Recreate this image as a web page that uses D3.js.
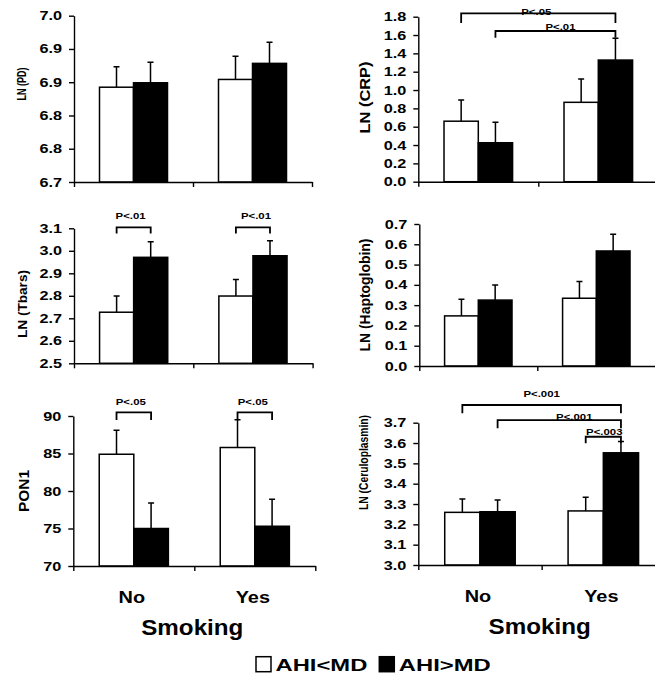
<!DOCTYPE html>
<html>
<head>
<meta charset="utf-8">
<script src="https://cdn.jsdelivr.net/npm/d3@7"></script>
<style>
  body { margin: 0; background: #fff; }
  svg text { font-family: "Liberation Sans", Arial, sans-serif; font-weight: bold; fill: #000; }
</style>
</head>
<body>
<div id="chart"></div>
<script>
// categories and groups
var categories = ["No", "Yes"];
var groups = ["AHI<MD", "AHI>MD"];

// means [No, Yes] x [AHI<MD, AHI>MD], upper error bars (SE)
var pdMean = [[6.871, 6.879], [6.885, 6.914]];
var pdErr = [[0.037, 0.037], [0.042, 0.038]];
var crpMean = [[0.66, 0.425], [0.866, 1.327]];
var crpErr = [[0.231, 0.223], [0.254, 0.237]];
var tbarsMean = [[2.727, 2.971], [2.799, 2.978]];
var tbarsErr = [[0.072, 0.069], [0.074, 0.067]];
var haptoMean = [[0.247, 0.325], [0.334, 0.567]];
var haptoErr = [[0.082, 0.074], [0.082, 0.082]];
var ponMean = [[84.9, 75.0], [85.8, 75.3]];
var ponErr = [[3.2, 3.4], [3.7, 3.6]];
var ceruloMean = [[3.259, 3.262], [3.266, 3.552]];
var ceruloErr = [[0.066, 0.058], [0.067, 0.055]];

// tick values
var pdTicks = [6.70, 6.76, 6.82, 6.88, 6.94, 7.00];
var crpTicks = [0, 0.2, 0.4, 0.6, 0.8, 1.0, 1.2, 1.4, 1.6, 1.8];
var tbarsTicks = [2.5, 2.6, 2.7, 2.8, 2.9, 3.0, 3.1];
var haptoTicks = [0, 0.1, 0.2, 0.3, 0.4, 0.5, 0.6, 0.7];
var ponTicks = [70, 75, 80, 85, 90];
var ceruloTicks = [3.0, 3.1, 3.2, 3.3, 3.4, 3.5, 3.6, 3.7];

var xTitle = "Smoking";

// panel layout
var panels = [
  {mean: pdMean, err: pdErr, ticks: pdTicks, fmt: ".1f", title: "LN (PD)",
   left: 74, top: 15.7, right: 312, bottom: 182,
   t: {x: 22, y: 84, len: 33, size: 13}, brackets: []},
  {mean: crpMean, err: crpErr, ticks: crpTicks, fmt: ".1f", title: "LN (CRP)",
   left: 418.3, top: 16.7, right: 658.3, bottom: 181.7,
   t: {x: 365, y: 97.5, len: 72, size: 14},
   brackets: [
     {a: [0, 0], b: [1, 1], level: 1.837, leg: 9.7, label: "P<.05", dx: -2, gap: -1.7},
     {a: [0, 1], b: [1, 1], level: 1.644, leg: 6.7, label: "P<.01", dx: 5, gap: 1}
   ]},
  {mean: tbarsMean, err: tbarsErr, ticks: tbarsTicks, fmt: ".1f", title: "LN (Tbars)",
   left: 74, top: 228.3, right: 312.6, bottom: 363.3,
   t: {x: 22.5, y: 304, len: 68, size: 13},
   brackets: [
     {a: [0, 0], b: [0, 1], level: 3.104, leg: 6, label: "P<.01", dx: -3, gap: 8},
     {a: [1, 0], b: [1, 1], level: 3.104, leg: 6, label: "P<.01", dx: 3, gap: 8}
   ]},
  {mean: haptoMean, err: haptoErr, ticks: haptoTicks, fmt: ".1f", title: "LN (Haptoglobin)",
   left: 419.3, top: 224, right: 655.3, bottom: 366,
   t: {x: 365, y: 295, len: 113, size: 14}, brackets: []},
  {mean: ponMean, err: ponErr, ticks: ponTicks, fmt: "d", title: "PON1",
   left: 73.3, top: 416, right: 315.3, bottom: 566,
   t: {x: 24, y: 491, len: 42, size: 15}, xlab: true,
   brackets: [
     {a: [0, 0], b: [0, 1], level: 90.49, leg: 7.7, label: "P<.05", dx: -3, gap: 7.3},
     {a: [1, 0], b: [1, 1], level: 90.49, leg: 7.7, label: "P<.05", dx: -2, gap: 7.3}
   ]},
  {mean: ceruloMean, err: ceruloErr, ticks: ceruloTicks, fmt: ".1f", title: "LN (Ceruloplasmin)",
   left: 418.3, top: 422.7, right: 665, bottom: 565,
   t: {x: 364, y: 462.5, len: 95, size: 13.5}, xlab: true,
   brackets: [
     {a: [0, 0], b: [1, 1], level: 3.787, leg: 8.3, label: "P<.001", dx: 0, gap: 8},
     {a: [0, 1], b: [1, 1], level: 3.713, leg: 8.3, label: "P<.001", dx: 15, gap: 0},
     {a: [1, 0], b: [1, 1], level: 3.631, leg: 6.6, label: "P<.003", dx: 1, gap: 1.7}
   ]}
];

var W = 655, H = 682;
var svg = d3.select("#chart").append("svg")
  .attr("width", W)
  .attr("height", H);

function stretchText(sel, x, y, str, size, sx, anchor) {
  return sel.append("text")
    .attr("transform", "translate(" + x + "," + y + ") scale(" + sx + ",1)")
    .attr("text-anchor", anchor)
    .style("font-size", size + "px")
    .text(str);
}

panels.forEach(function(p) {
  var y = d3.scaleLinear()
    .domain([p.ticks[0], p.ticks[p.ticks.length - 1]])
    .range([p.bottom, p.top]);
  var x0 = d3.scaleBand().domain(categories).range([p.left, p.right]).padding(0);
  var x1 = d3.scaleBand().domain(groups).range([0, x0.bandwidth()])
    .paddingInner(0).paddingOuter(0.75);

  var barX = function(ci, gi) {
    return x0(categories[ci]) + x1(groups[gi]);
  };
  var barC = function(ci, gi) {
    return barX(ci, gi) + x1.bandwidth() / 2;
  };

  var rows = [];
  categories.forEach(function(c, ci) {
    groups.forEach(function(g, gi) {
      rows.push({ci: ci, gi: gi, v: p.mean[ci][gi], e: p.err[ci][gi]});
    });
  });

  // error bars (upper only)
  var eb = svg.append("g")
    .attr("stroke", "#000")
    .attr("stroke-width", 1.5)
    .attr("fill", "none");
  eb.selectAll("path")
    .data(rows)
    .enter()
    .append("path")
    .attr("d", function(d) {
      var cx = barC(d.ci, d.gi);
      var yt = y(d.v + d.e);
      return "M" + cx + "," + y(d.v) + "V" + yt + "M" + (cx - 3) + "," + yt + "H" + (cx + 3);
    });

  // bars
  svg.append("g")
    .selectAll("rect")
    .data(rows)
    .enter()
    .append("rect")
    .attr("x", function(d) { return barX(d.ci, d.gi); })
    .attr("y", function(d) { return y(d.v); })
    .attr("width", x1.bandwidth())
    .attr("height", function(d) { return p.bottom - y(d.v); })
    .attr("fill", function(d) { return d.gi === 0 ? "#fff" : "#000"; })
    .attr("stroke", "#000")
    .attr("stroke-width", 1.5);

  // y axis
  var ya = svg.append("g")
    .attr("transform", "translate(" + p.left + ",0)")
    .call(d3.axisLeft(y).tickValues(p.ticks).tickFormat(d3.format(p.fmt))
      .tickSize(5).tickSizeOuter(0).tickPadding(7));
  ya.selectAll("path, line").attr("stroke", "#000").attr("stroke-width", 1.4);
  ya.selectAll("text")
    .attr("x", -12 / 1.3)
    .attr("transform", "scale(1.3,1)")
    .style("font-size", "12.5px")
    .style("font-family", "'Liberation Sans', Arial, sans-serif")
    .style("font-weight", "bold");

  // x axis with ticks at band edges
  var xe = d3.scaleLinear().domain([0, categories.length]).range([p.left, p.right]);
  var xa = svg.append("g")
    .attr("transform", "translate(0," + p.bottom + ")")
    .call(d3.axisBottom(xe).tickValues(d3.range(categories.length + 1))
      .tickFormat("").tickSize(5).tickSizeOuter(0));
  xa.selectAll("path, line").attr("stroke", "#000").attr("stroke-width", 1.4);

  // y title, squeezed along its length to the measured size
  var tt = svg.append("text")
    .attr("text-anchor", "middle")
    .attr("dy", "0.33em")
    .style("font-size", p.t.size + "px")
    .text(p.title);
  var natural = tt.node().getComputedTextLength();
  tt.attr("transform", "translate(" + p.t.x + "," + p.t.y + ") rotate(-90) scale(" +
    (p.t.len / natural) + ",1)");

  // significance brackets
  p.brackets.forEach(function(b) {
    var xa1 = barC(b.a[0], b.a[1]);
    var xb1 = barC(b.b[0], b.b[1]);
    var yl = y(b.level);
    svg.append("path")
      .attr("d", "M" + xa1 + "," + (yl + b.leg) + "V" + yl + "H" + xb1 + "V" + (yl + b.leg))
      .attr("fill", "none")
      .attr("stroke", "#000")
      .attr("stroke-width", 1.8);
    stretchText(svg, (xa1 + xb1) / 2 + b.dx, yl - b.gap, b.label, 9.5, 1.2, "middle");
  });

  // category labels and x title for bottom panels
  if (p.xlab) {
    categories.forEach(function(c) {
      stretchText(svg, x0(c) + x0.bandwidth() / 2 - 2, p.bottom + 37, c, 17, 1.17, "middle");
    });
    stretchText(svg, (p.left + p.right) / 2 - 2, p.bottom + 69, xTitle, 22, 1.1, "middle");
  }
});

// legend
var legend = svg.append("g");
var legX = [256, 379.3];
groups.forEach(function(g, i) {
  legend.append("rect")
    .attr("x", legX[i])
    .attr("y", 656.7)
    .attr("width", 15)
    .attr("height", 15)
    .attr("fill", i === 0 ? "#fff" : "#000")
    .attr("stroke", "#000")
    .attr("stroke-width", 1.5);
  stretchText(legend, legX[i] + 19.5, 670.7, g, 17, 1.4, "start");
});
</script>
</body>
</html>
